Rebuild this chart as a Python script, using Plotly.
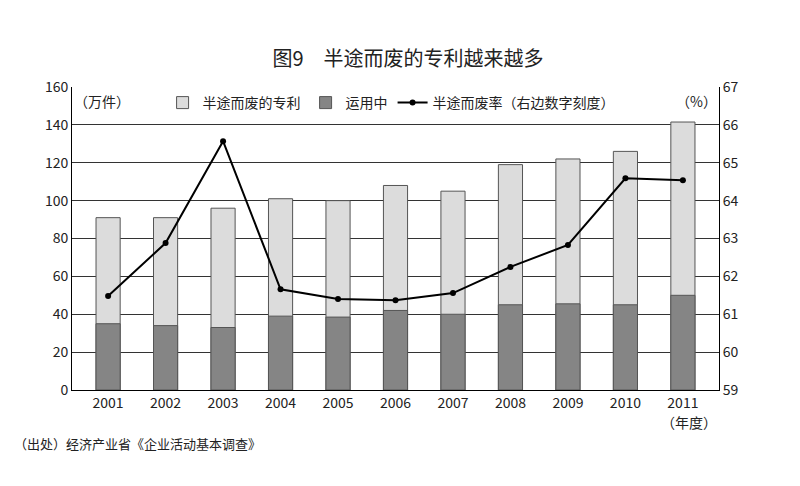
import plotly.graph_objects as go

years = ["2001","2002","2003","2004","2005","2006","2007","2008","2009","2010","2011"]
total = [91, 91, 96, 101, 100, 108, 105, 119, 122, 126, 141.5]
in_use = [35, 34, 33, 39, 38.5, 42, 40, 45, 45.5, 45, 50]
rate = [61.48, 62.88, 65.57, 61.66, 61.40, 61.37, 61.56, 62.25, 62.83, 64.59, 64.54]

F = "Noto Sans CJK SC"
fig = go.Figure()
fig.add_bar(x=years, y=total, name="半途而废的专利", marker=dict(color="#dcdcdc", line=dict(color="#555", width=1)), width=0.42)
fig.add_bar(x=years, y=in_use, name="运用中", marker=dict(color="#858585", line=dict(color="#555", width=1)), width=0.42)
fig.add_scatter(x=years, y=rate, name="半途而废率（右边数字刻度）", yaxis="y2", mode="lines+markers",
                line=dict(color="black", width=2), marker=dict(color="black", size=6))
fig.update_layout(
    width=800, height=486, barmode="overlay", plot_bgcolor="white", paper_bgcolor="white",
    font=dict(family=F, size=14, color="#222"),
    margin=dict(l=64, r=89, t=79, b=104),
    title=dict(text="图9　半途而废的专利越来越多", x=0.5, y=0.91, xanchor="center", font=dict(size=20, family=F)),
    xaxis=dict(showline=True, linecolor="black", ticks="", mirror=False),
    yaxis=dict(range=[0,160], dtick=20, showgrid=True, gridcolor="#333", gridwidth=1, showline=True, linecolor="black", ticks=""),
    yaxis2=dict(range=[59,67], dtick=1, overlaying="y", side="right", showgrid=False, showline=True, linecolor="black", ticks=""),
    legend=dict(orientation="h", x=0.14, y=1.0, xanchor="left", yanchor="top", bgcolor="rgba(0,0,0,0)", font=dict(size=14), traceorder="normal"),
    showlegend=True,
    annotations=[
        dict(text="（万件）", x=0.0, y=1.0, xref="paper", yref="paper", xanchor="left", yanchor="top", showarrow=False, yshift=-2),
        dict(text="（%）", x=1.0, y=1.0, xref="paper", yref="paper", xanchor="right", yanchor="top", showarrow=False, yshift=-2),
        dict(text="（年度）", x=1.0, y=0, xref="paper", yref="paper", xanchor="right", yanchor="top", showarrow=False, yshift=-20),
        dict(text="（出处）经济产业省《企业活动基本调查》", x=0, y=0, xref="paper", yref="paper", xanchor="left", yanchor="top", showarrow=False, xshift=-60, yshift=-42, font=dict(size=13)),
    ],
)
fig.write_html("out.html")
